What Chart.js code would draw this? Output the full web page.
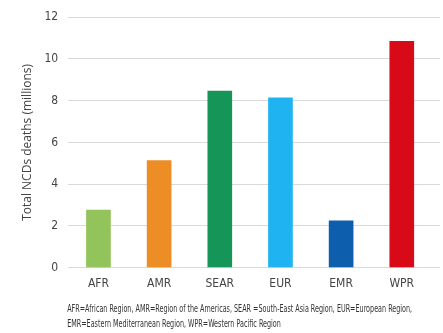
<!DOCTYPE html>
<html>
<head>
<meta charset="utf-8">
<script src="https://cdn.jsdelivr.net/npm/chart.js@4/dist/chart.umd.min.js"></script>
<style>
  html, body { margin: 0; padding: 0; background: #fff; }
  #c { display: block; }
</style>
</head>
<body>
<canvas id="c" width="443" height="333"></canvas>
<script>
// WHO regions and total NCD deaths (millions)
const regions = ["AFR", "AMR", "SEAR", "EUR", "EMR", "WPR"];
const deaths = [2.76, 5.13, 8.46, 8.13, 2.24, 10.84];
const barColors = ["#93c35b", "#ec8d25", "#169558", "#1fb4f1", "#0d5fad", "#d90a17"];
const yTicks = [0, 2, 4, 6, 8, 10, 12];
const noteLines = [
  "AFR=African Region, AMR=Region of the Americas, SEAR =South-East Asia Region, EUR=European Region,",
  "EMR=Eastern Mediterranean Region, WPR=Western Pacific Region"
];

const narrowFamily = "'Liberation Sans Narrow', 'DejaVu Sans Condensed', sans-serif";
const tickFont = { family: narrowFamily, size: 12 };

// Abbreviation key under the axis, set in a condensed face
const footnote = {
  id: "footnote",
  afterDraw(chart) {
    const ctx = chart.ctx;
    const left = chart.chartArea.left - 1;
    ctx.save();
    ctx.font = "10.5px " + narrowFamily;
    ctx.fillStyle = "#333";
    ctx.textBaseline = "middle";
    const squeeze = 345 / ctx.measureText(noteLines[0]).width;
    noteLines.forEach((line, i) => {
      ctx.save();
      ctx.translate(left, chart.chartArea.bottom + 42 + i * 15);
      ctx.scale(Math.min(1, squeeze), 1);
      ctx.fillText(line, 0, 0);
      ctx.restore();
    });
    ctx.restore();
  }
};

new Chart(document.getElementById("c"), {
  type: "bar",
  data: {
    datasets: [{
      data: deaths.map((v, i) => ({ x: i, y: v })),
      backgroundColor: barColors,
      borderWidth: 0,
      barThickness: 24
    }]
  },
  options: {
    responsive: false,
    animation: false,
    devicePixelRatio: 1,
    layout: { padding: { top: 7, right: 3, left: 20, bottom: 33 } },
    plugins: { legend: { display: false }, tooltip: { enabled: false } },
    scales: {
      x: {
        type: "linear",
        offset: false,
        min: -0.5,
        max: 5.63,
        afterBuildTicks: (axis) => { axis.ticks = regions.map((r, i) => ({ value: i })); },
        grid: { display: false, drawTicks: false },
        border: { display: false },
        ticks: { color: "#444", font: tickFont, padding: 9, callback: (v) => regions[v] }
      },
      y: {
        min: 0, max: 12,
        afterBuildTicks: (axis) => { axis.ticks = yTicks.map(v => ({ value: v })); },
        grid: { color: "#d9d9d9", lineWidth: 1, drawTicks: false },
        border: { display: false },
        ticks: { color: "#444", font: tickFont, padding: 10 },
        title: {
          display: true,
          text: "Total NCDs deaths (millions)",
          color: "#444",
          font: { family: "'Open Sans', sans-serif", size: 12 },
          padding: { top: 0, bottom: 0 }
        }
      }
    }
  },
  plugins: [footnote]
});
</script>
</body>
</html>
